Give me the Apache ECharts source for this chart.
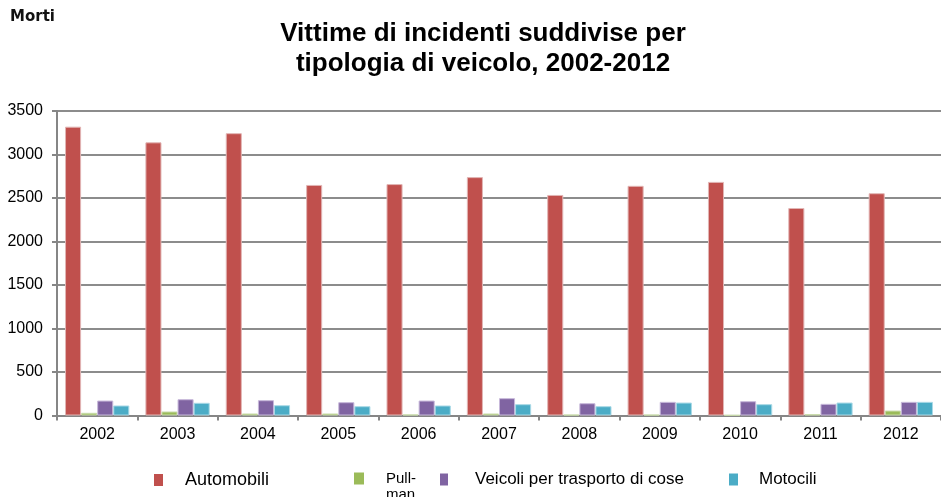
<!DOCTYPE html>
<html><head><meta charset="utf-8">
<script src="https://cdn.jsdelivr.net/npm/echarts@6/dist/echarts.min.js"></script>
<style>html,body{margin:0;padding:0;background:#fff}#c{width:941px;height:497px}</style>
</head><body><div id="c"></div>
<script>
const categories = ['2002','2003','2004','2005','2006','2007','2008','2009','2010','2011','2012'];
const automobili = [3320,3140,3245,2650,2660,2740,2535,2640,2685,2385,2555];
const pullman = [31,46,23,23,12,23,10,10,5,15,57];
const veicoliMerci = [172,187,176,153,172,199,141,157,164,134,157];
const motocili = [115,146,118,107,115,130,107,149,130,149,157];
const yTicks = {min:0, max:3500, interval:500};
const names = ['Automobili','Pull-man','Veicoli per trasporto di cose','Motocili'];
const colors = ['#C0504D','#9BBB59','#8064A2','#4BACC6'];
const borders = ['#e2b6b5','#c9dbab','#c7b8da','#a9d9e6'];

const chart = echarts.init(document.getElementById('c'));
const font = 'Liberation Sans, Arial, sans-serif';
function leg(name, left, w, pad, size, extra) {
  return Object.assign({
    data:[name], left:left, top:471, padding:0, itemWidth:w, itemHeight:12, icon:'rect',
    itemStyle:{borderWidth:0},
    textStyle:{fontFamily:font, fontSize:size, color:'#000', padding:[0,0,0,pad]},
    selectedMode:false
  }, extra||{});
}
chart.setOption({
  animation:false,
  title:{
    text:'Vittime di incidenti suddivise per\ntipologia di veicolo, 2002-2012',
    left:483, top:19, textAlign:'center', padding:0,
    textStyle:{fontFamily:font, fontSize:26, fontWeight:'bold', color:'#000', lineHeight:30}
  },
  graphic:[
    {type:'text', left:10, top:10, style:{text:'Morti', font:'bold 15px DejaVu Sans', fill:'#111'}},
    {type:'text', left:386, top:487, style:{text:'man', font:'15px Liberation Sans', fill:'#000'}}
  ],
  legend:[
    leg(names[0], 154, 9, 17, 18),
    leg(names[1], 354, 10, 17, 15, {formatter:()=> 'Pull-'}),
    leg(names[2], 440, 8, 22, 17),
    leg(names[3], 729, 9, 16, 17)
  ],
  grid:{left:57, right:-7, top:111, bottom:81.5, containLabel:false},
  xAxis:{
    type:'category', data:categories,
    axisLine:{lineStyle:{color:'#868686', width:2}},
    axisTick:{show:true, length:5, lineStyle:{color:'#868686', width:2}},
    axisLabel:{fontFamily:font, fontSize:16, color:'#000', margin:11}
  },
  yAxis:{
    type:'value', min:yTicks.min, max:yTicks.max, interval:yTicks.interval,
    axisLine:{show:true, lineStyle:{color:'#868686', width:2}},
    axisTick:{show:true, length:5, lineStyle:{color:'#868686', width:2}},
    splitLine:{lineStyle:{color:'#8c8c8c', width:2}},
    axisLabel:{fontFamily:font, fontSize:16, color:'#000', margin:14, formatter:v=>String(v)}
  },
  series:[automobili,pullman,veicoliMerci,motocili].map((d,i)=>({
    name:names[i], type:'bar', data:d, barGap:'0%', barCategoryGap:'20%',
    itemStyle:{color:colors[i], borderColor:borders[i], borderWidth:1}
  }))
});
</script></body></html>
